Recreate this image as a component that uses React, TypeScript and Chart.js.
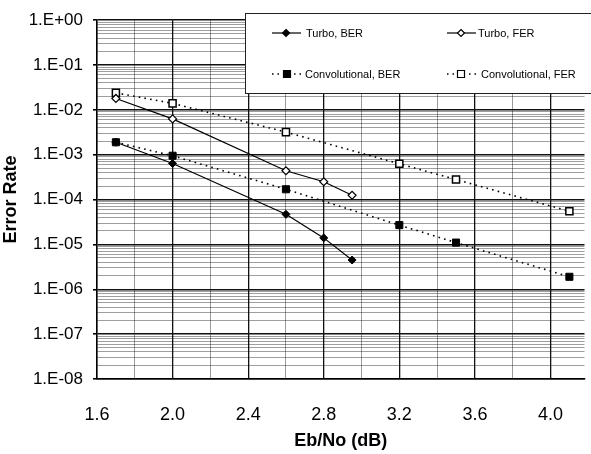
import React, { useEffect, useRef } from 'react';
import { Chart, registerables } from 'chart.js';

Chart.register(...registerables);

// ---- data ----
const turboX = [1.7, 2.0, 2.6, 2.8, 2.95];
const turboBER = [1.9e-3, 6.4e-4, 4.7e-5, 1.4e-5, 4.5e-6];
const turboFER = [1.8e-2, 6.3e-3, 4.4e-4, 2.5e-4, 1.25e-4];

const convX = [1.7, 2.0, 2.6, 3.2, 3.5, 4.1];
const convBER = [1.9e-3, 9.5e-4, 1.7e-4, 2.7e-5, 1.1e-5, 1.9e-6];
const convFER = [2.4e-2, 1.4e-2, 3.2e-3, 6.3e-4, 2.8e-4, 5.5e-5];

const xTickLabels = ['1.6', '2.0', '2.4', '2.8', '3.2', '3.6', '4.0'];
const yTickLabels = ['1.E+00', '1.E-01', '1.E-02', '1.E-03', '1.E-04', '1.E-05', '1.E-06', '1.E-07', '1.E-08'];
const seriesNames = ['Turbo, BER', 'Turbo, FER', 'Convolutional, BER', 'Convolutional, FER'];

const FONT = "'Liberation Sans', Arial, sans-serif";

// grid positions (every 0.2 on x, log minors on y)
const xGrid: number[] = [];
for (let i = 16; i <= 40; i += 2) xGrid.push(i / 10);
const yGrid: number[] = [];
for (let e = 0; e >= -8; e--) {
  yGrid.push(Math.pow(10, e));
  if (e > -8) for (let m = 9; m >= 2; m--) yGrid.push(m * Math.pow(10, e - 1));
}

const isMajorX = (v: number) => Math.round(v * 10) % 4 === 0;
const isMajorY = (v: number) => {
  const l = Math.log10(v);
  return Math.abs(l - Math.round(l)) < 1e-6;
};

const legendPlugin = {
  id: 'boxLegend',
  afterDraw(chart: any) {
    const ctx = chart.ctx;
    ctx.save();
    ctx.fillStyle = '#fff';
    ctx.fillRect(245, 13, 360, 80);
    ctx.strokeStyle = '#222';
    ctx.lineWidth = 1;
    ctx.strokeRect(245.5, 13.5, 360, 80);

    const items = [
      { x0: 272, x1: 301, mx: 286, tx: 306, y: 33, dash: [], shape: 'diamond', fill: '#000' },
      { x0: 447, x1: 476, mx: 461, tx: 478, y: 33, dash: [], shape: 'diamond', fill: '#fff' },
      { x0: 272, x1: 303, mx: 287, tx: 305, y: 74, dash: [1.5, 4], shape: 'square', fill: '#000' },
      { x0: 447, x1: 478, mx: 461, tx: 481, y: 74, dash: [1.5, 4], shape: 'square', fill: '#fff' },
    ];
    items.forEach((it, i) => {
      ctx.strokeStyle = '#000';
      ctx.lineWidth = it.dash.length ? 1.5 : 1.2;
      ctx.setLineDash(it.dash);
      ctx.beginPath();
      ctx.moveTo(it.x0, it.y);
      ctx.lineTo(it.x1, it.y);
      ctx.stroke();
      ctx.setLineDash([]);
      ctx.fillStyle = it.fill;
      ctx.lineWidth = 1.2;
      ctx.beginPath();
      if (it.shape === 'diamond') {
        const r = 3.5;
        ctx.moveTo(it.mx, it.y - r);
        ctx.lineTo(it.mx + r, it.y);
        ctx.lineTo(it.mx, it.y + r);
        ctx.lineTo(it.mx - r, it.y);
        ctx.closePath();
      } else {
        const s = 3.5;
        ctx.rect(it.mx - s, it.y - s, 2 * s, 2 * s);
      }
      ctx.fill();
      ctx.stroke();
      ctx.fillStyle = '#000';
      ctx.font = `11px ${FONT}`;
      ctx.textBaseline = 'middle';
      ctx.textAlign = 'left';
      ctx.fillText(seriesNames[i], it.tx, it.y + 1);
    });
    ctx.restore();
  },
};

export default function App() {
  const ref = useRef<HTMLCanvasElement | null>(null);

  useEffect(() => {
    document.body.style.margin = '0';
    const canvas = ref.current;
    if (!canvas) return;
    const toPts = (xs: number[], ys: number[]) => xs.map((x, i) => ({ x, y: ys[i] }));

    const chart = new Chart(canvas, {
      type: 'line',
      data: {
        datasets: [
          {
            label: seriesNames[0],
            data: toPts(turboX, turboBER),
            borderColor: '#000',
            borderWidth: 1.2,
            pointStyle: 'rectRot',
            pointRadius: 4,
            pointBackgroundColor: '#000',
            pointBorderColor: '#000',
            pointBorderWidth: 1,
          },
          {
            label: seriesNames[1],
            data: toPts(turboX, turboFER),
            borderColor: '#000',
            borderWidth: 1.2,
            pointStyle: 'rectRot',
            pointRadius: 4,
            pointBackgroundColor: '#fff',
            pointBorderColor: '#000',
            pointBorderWidth: 1.2,
          },
          {
            label: seriesNames[2],
            data: toPts(convX, convBER),
            borderColor: '#000',
            borderWidth: 1.6,
            borderDash: [1.6, 4.2],
            pointStyle: 'rect',
            pointRadius: 5,
            pointBackgroundColor: '#000',
            pointBorderColor: '#000',
            pointBorderWidth: 1,
          },
          {
            label: seriesNames[3],
            data: toPts(convX, convFER),
            borderColor: '#000',
            borderWidth: 1.6,
            borderDash: [1.6, 4.2],
            pointStyle: 'rect',
            pointRadius: 5,
            pointBackgroundColor: '#fff',
            pointBorderColor: '#000',
            pointBorderWidth: 1.5,
          },
        ],
      },
      options: {
        animation: false,
        responsive: false,
        devicePixelRatio: 1,
        layout: { padding: { top: 15, left: 0, right: 0, bottom: 0 } },
        plugins: { legend: { display: false }, tooltip: { enabled: false } },
        scales: {
          x: {
            type: 'linear',
            min: 1.6,
            max: 4.18,
            afterBuildTicks: (s: any) => {
              s.ticks = xGrid.map((v) => ({ value: v }));
            },
            afterFit: (s: any) => {
              s.height = 75;
            },
            ticks: {
              autoSkip: false,
              maxRotation: 0,
              color: '#000',
              padding: 25,
              font: { family: FONT, size: 18 },
              callback: (v: any) => {
                const lab = xTickLabels.find((l) => Math.abs(parseFloat(l) - Number(v)) < 1e-6);
                return lab ?? '';
              },
            },
            grid: {
              drawTicks: false,
              color: (c: any) => (c.tick && isMajorX(c.tick.value) ? '#111' : '#9a9a9a'),
              lineWidth: (c: any) => (c.tick && isMajorX(c.tick.value) ? 1.3 : 1),
            },
            border: { color: '#000', width: 1.5 },
            title: {
              display: true,
              text: 'Eb/No (dB)',
              color: '#000',
              font: { family: FONT, size: 18, weight: 'bold' },
              padding: { top: 0, bottom: 2 },
            },
          },
          y: {
            type: 'logarithmic',
            min: 1e-8,
            max: 1,
            afterBuildTicks: (s: any) => {
              s.ticks = yGrid.map((v) => ({ value: v, major: isMajorY(v) }));
            },
            afterFit: (s: any) => {
              s.width = 97;
            },
            ticks: {
              autoSkip: false,
              color: '#000',
              padding: 10,
              font: { family: FONT, size: 17 },
              callback: (v: any) => {
                const n = Number(v);
                if (!isMajorY(n)) return '';
                const e = -Math.round(Math.log10(n));
                return yTickLabels[e] ?? '';
              },
            },
            grid: {
              tickLength: 4,
              color: (c: any) => (c.tick && isMajorY(c.tick.value) ? '#111' : 'rgba(0,0,0,0.38)'),
              lineWidth: (c: any) => (c.tick && isMajorY(c.tick.value) ? 1.6 : 1),
              tickColor: (c: any) => (c.tick && isMajorY(c.tick.value) ? '#000' : 'rgba(0,0,0,0)'),
            },
            border: { color: '#000', width: 1.5 },
            title: {
              display: true,
              text: 'Error Rate',
              color: '#000',
              font: { family: FONT, size: 18, weight: 'bold' },
              padding: { top: 0, bottom: 0 },
            },
          },
        },
      },
      plugins: [legendPlugin],
    } as any);

    return () => chart.destroy();
  }, []);

  return (
    <div style={{ width: 591, height: 454, background: '#fff' }}>
      <canvas ref={ref} width={591} height={454} style={{ display: 'block' }} />
    </div>
  );
}
